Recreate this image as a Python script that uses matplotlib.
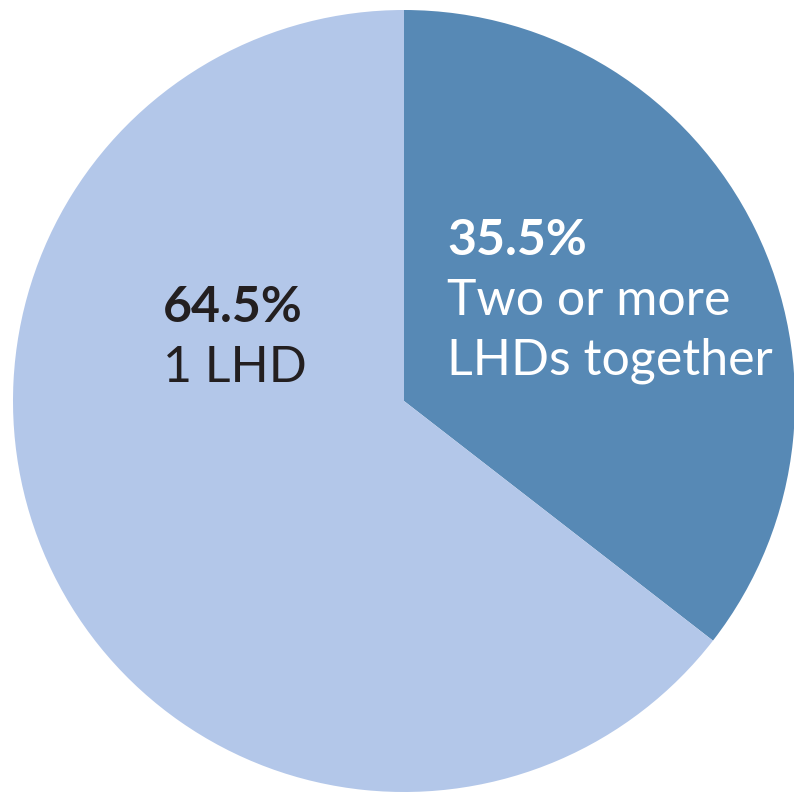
import matplotlib
matplotlib.use("Agg")
import matplotlib.pyplot as plt

# share of health departments by jurisdiction arrangement
shares = [35.5, 64.5]
labels = ["Two or more\nLHDs together", "1 LHD"]
colors = ["#5789B5", "#B3C7E9"]
text_colors = ["white", "#231F20"]

fig = plt.figure(figsize=(7.94, 7.94), dpi=100)
cx, cy, r = 404, 401, 391
ax = fig.add_axes([(cx - r) / 794, (794 - cy - r) / 794, 2 * r / 794, 2 * r / 794])
ax.pie(shares, colors=colors, startangle=90, counterclock=False, radius=1,
       wedgeprops=dict(linewidth=0))
ax.set_xlim(-1, 1)
ax.set_ylim(-1, 1)
ax.set_aspect("equal")
ax.axis("off")

# label anchors (left x, first baseline) for each wedge
anchors = [(447, 255), (163, 322)]
line_gap = 60
font = "Lato"
for val, lab, tc, (px, py) in zip(shares, labels, text_colors, anchors):
    x = (px - cx) / r
    y0 = (cy - py) / r
    ax.text(x, y0, f"{val}%", color=tc, fontsize=36, fontweight="bold",
            family=font, ha="left", va="baseline")
    for i, line in enumerate(lab.split("\n")):
        y = (cy - py - line_gap * (i + 1)) / r
        ax.text(x, y, line, color=tc, fontsize=36, family=font,
                fontweight="normal", ha="left", va="baseline")

fig.savefig("out.png", dpi=100)
